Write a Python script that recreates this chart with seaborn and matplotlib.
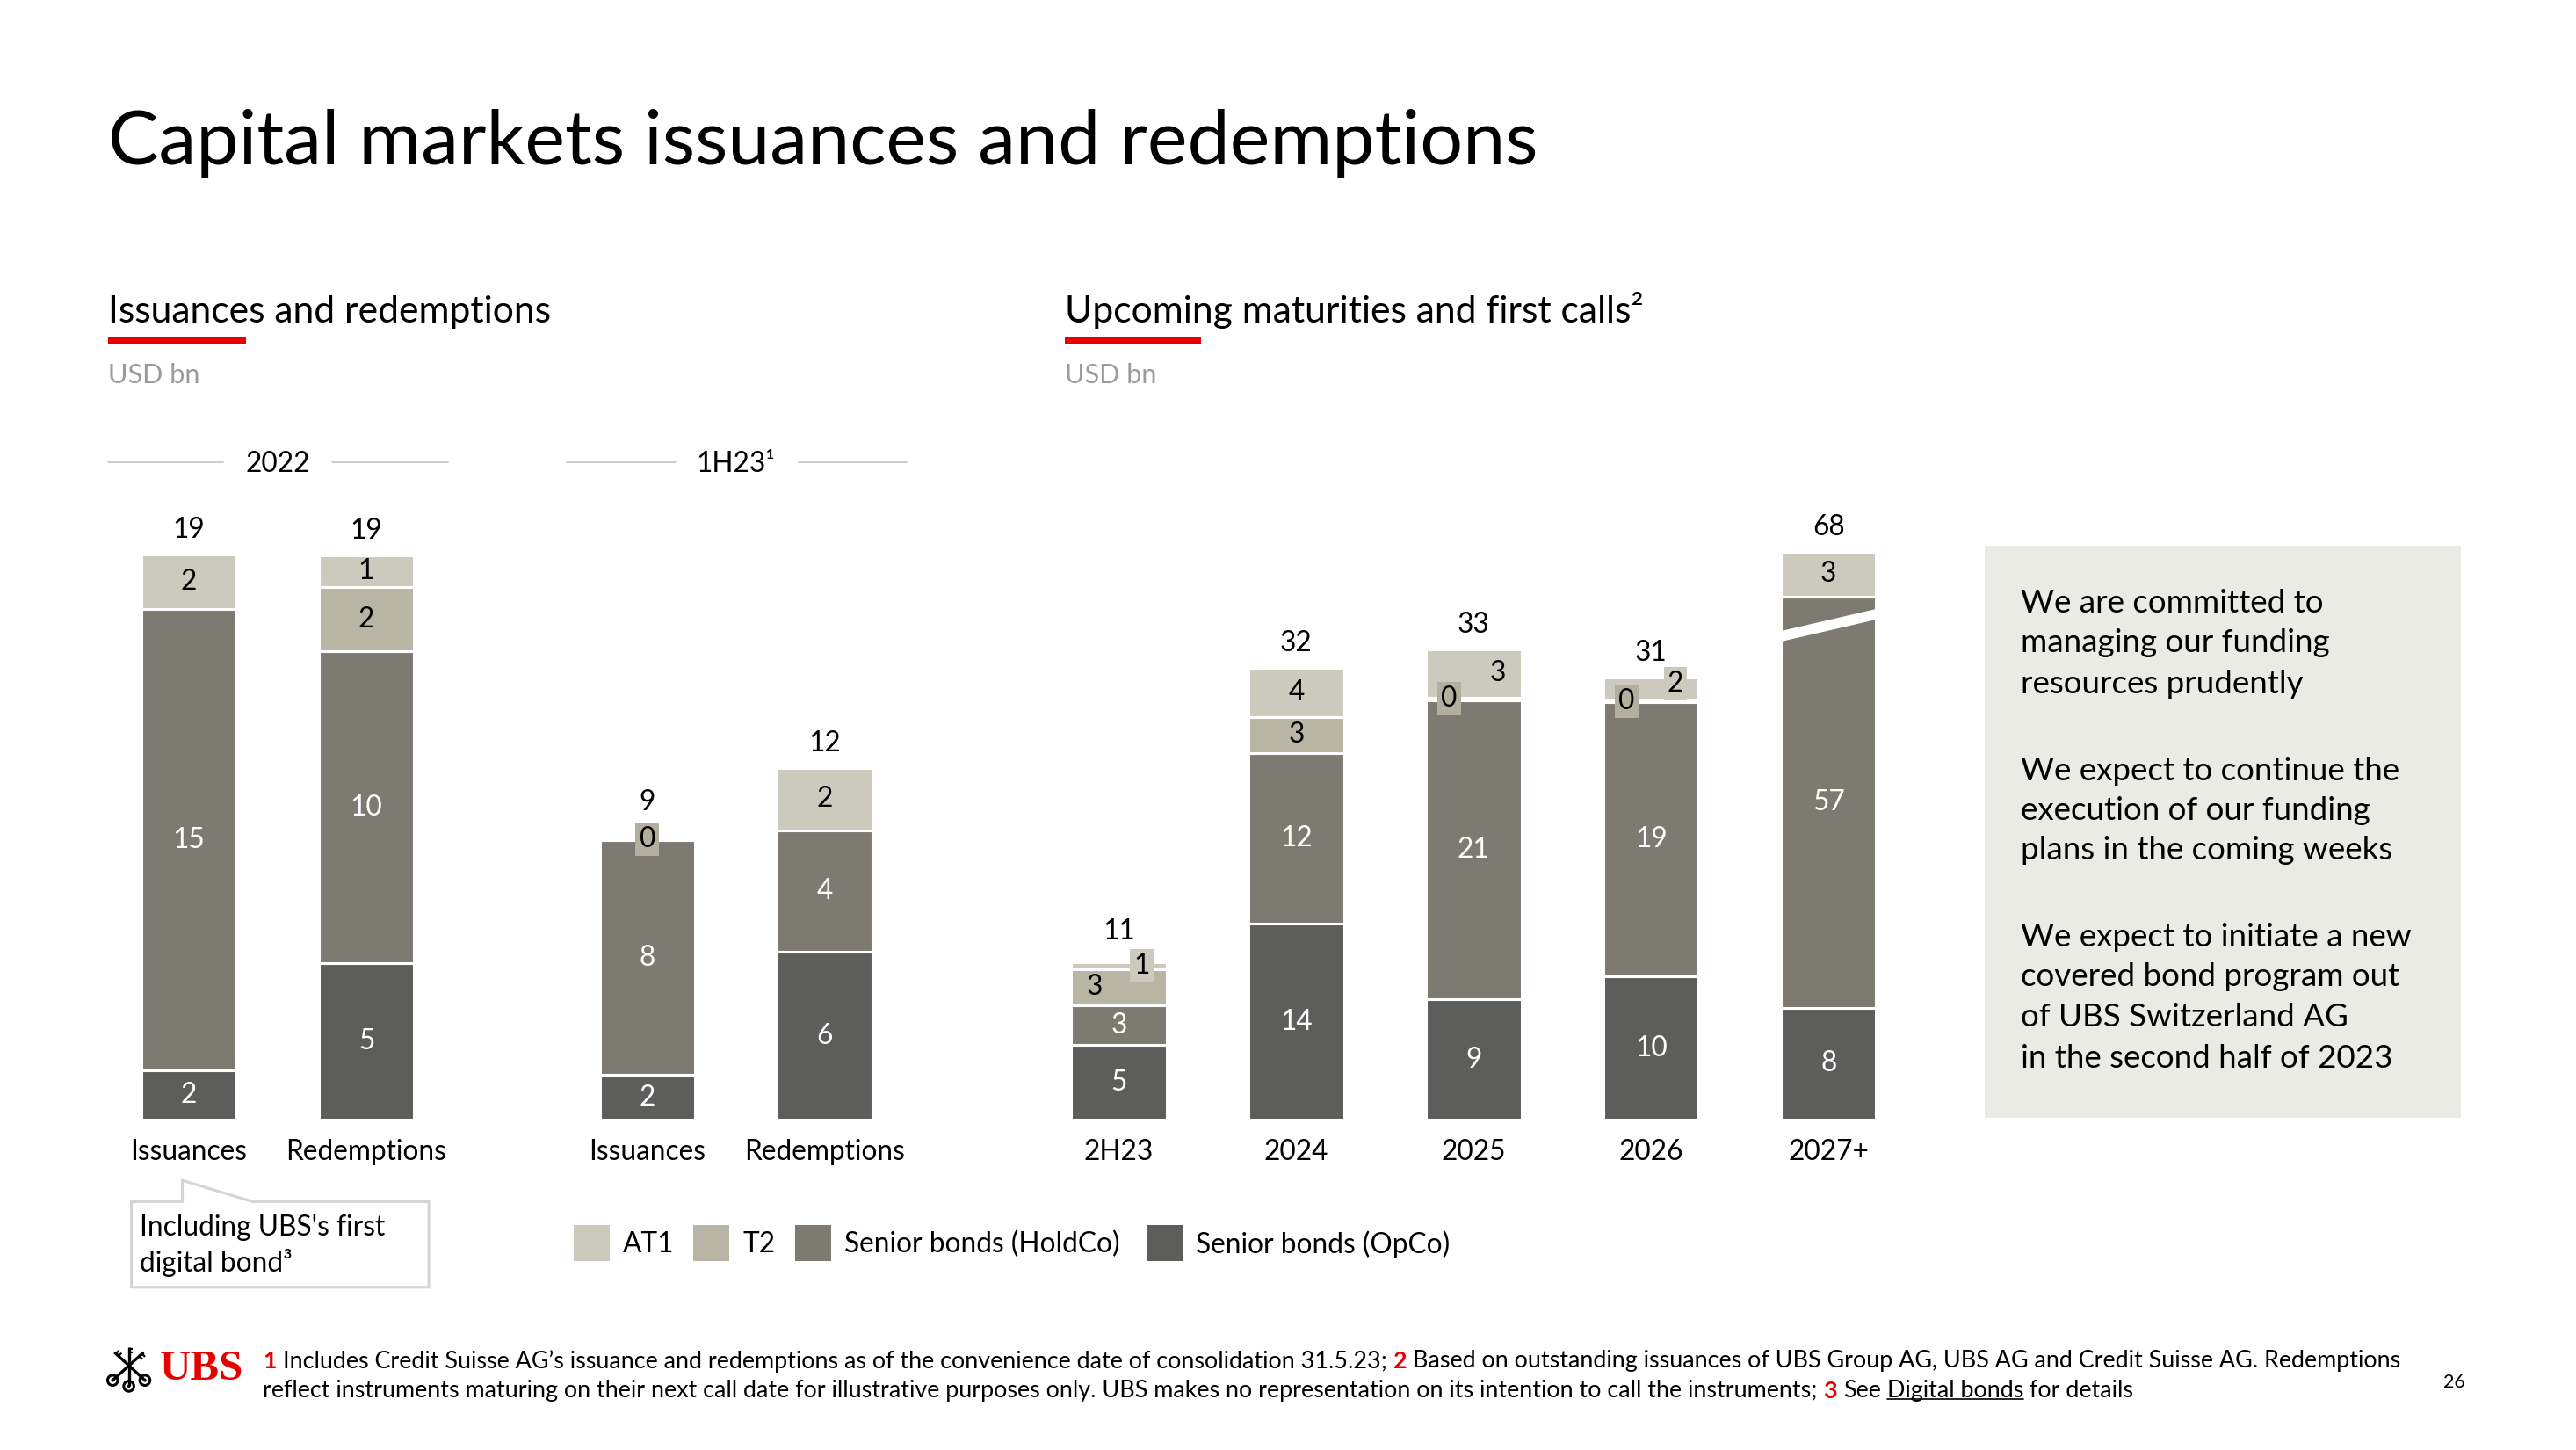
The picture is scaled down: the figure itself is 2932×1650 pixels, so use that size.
import numpy as np
import pandas as pd
import matplotlib
matplotlib.use("Agg")
import matplotlib.pyplot as plt
import seaborn as sns
from matplotlib.patches import Rectangle, Polygon, Circle
from matplotlib.lines import Line2D

# ---------------- data (USD bn) ----------------
series_names = ["AT1", "T2", "Senior bonds (HoldCo)", "Senior bonds (OpCo)"]

cats_2022 = ["Issuances", "Redemptions"]
opco_2022 = [1.64, 5.23]
holdco_2022 = [15.45, 10.45]
t2_2022 = [np.nan, 2.16]
at1_2022 = [1.85, 1.05]

cats_1h23 = ["Issuances", "Redemptions"]
opco_1h23 = [1.50, 5.62]
holdco_1h23 = [7.85, 4.07]
t2_1h23 = [0.10, np.nan]
at1_1h23 = [np.nan, 2.09]

cats_mat = ["2H23", "2024", "2025", "2026", "2027+"]
opco_mat = [5.26, 13.85, 8.50, 10.13, 7.92]
holdco_mat = [2.83, 12.10, 21.19, 19.40, 57.00]
t2_mat = [2.55, 2.56, 0.20, 0.20, np.nan]
at1_mat = [0.50, 3.50, 3.41, 1.60, 3.20]

group_labels = ["2022", "1H23¹"]

title = "Capital markets issuances and redemptions"
sub_left = "Issuances and redemptions"
sub_right = "Upcoming maturities and first calls²"
unit = "USD bn"
callout_lines = ["Including UBS's first", "digital bond³"]
box_paragraphs = [
    ["We are committed to", "managing our funding", "resources prudently"],
    ["We expect to continue the", "execution of our funding", "plans in the coming weeks"],
    ["We expect to initiate a new", "covered bond program out", "of UBS Switzerland AG",
     "in the second half of 2023"],
]
foot1 = [("1", "num"), ("Includes Credit Suisse AG’s issuance and redemptions as of the convenience date of consolidation 31.5.23;", "txt"),
         ("2", "num"), ("Based on outstanding issuances of UBS Group AG, UBS AG and Credit Suisse AG. Redemptions", "txt")]
foot2 = [("reflect instruments maturing on their next call date for illustrative purposes only. UBS makes no representation on its intention to call the instruments;", "txt"),
         ("3", "num"), ("See", "txt"), ("Digital bonds", "ul"), ("for details", "txt")]
page_no = "26"

# ---------------- style ----------------
COLORS = {"AT1": "#CCCABD", "T2": "#B9B5A5",
          "Senior bonds (HoldCo)": "#7D7A72", "Senior bonds (OpCo)": "#5D5E5C"}
TXT_ON = {"AT1": "black", "T2": "black",
          "Senior bonds (HoldCo)": "white", "Senior bonds (OpCo)": "white"}
RED = "#E60000"

sns.set_theme(style="white")
plt.rcParams["font.family"] = ["Lato", "DejaVu Sans"]
plt.rcParams["font.weight"] = "normal"
plt.rcParams["text.color"] = "black"
plt.rcParams["xtick.color"] = "black"
plt.rcParams["xtick.labelcolor"] = "black"
plt.rcParams["axes.labelcolor"] = "black"

W, H = 1568.0, 882.0
SC = 2932.0 / W
fig = plt.figure(figsize=(29.32, 16.5), dpi=100, facecolor="white")
R = fig.canvas.get_renderer()

ax_bg = fig.add_axes([0, 0, 1, 1], zorder=-5)
ax_bg.axis("off")


def fx(x):
    return x / W


def fy(y):
    return 1 - y / H


def ftext(x, y, s, **kw):
    kw.setdefault("color", "black")
    return fig.text(fx(x), fy(y), s, **kw)


def frect(x0, y0, x1, y1, **kw):
    r = Rectangle((fx(x0), fy(y1)), (x1 - x0) / W, (y1 - y0) / H, transform=fig.transFigure, **kw)
    fig.add_artist(r)
    return r


def fline(x0, y0, x1, y1, **kw):
    l = Line2D([fx(x0), fx(x1)], [fy(y0), fy(y1)], transform=fig.transFigure, **kw)
    fig.add_artist(l)
    return l


def fitsize(s, target, base=20.0, **kw):
    t = fig.text(0, 0, s, fontsize=base, **kw)
    w = t.get_window_extent(renderer=R).width
    t.remove()
    return base * target * SC / w


FS_TITLE = fitsize(title, 872)
FS_SUB = fitsize(sub_left, 271)
FS_UNIT = fitsize(unit, 56)
FS_LBL = fitsize("Redemptions", 98)
FS_BOX = fitsize("We expect to initiate a new", 239)
FS_FOOT = fitsize(" ".join(s for s, _ in foot1), 1305)
FS_LOGO = fitsize("UBS", 51, family="Liberation Serif", weight="bold")

# ---------------- headings ----------------
ftext(66, 100, title, fontsize=FS_TITLE, ha="left", va="baseline")
ftext(66, 196, sub_left, fontsize=FS_SUB, ha="left", va="baseline")
ftext(648, 196, sub_right, fontsize=FS_SUB, ha="left", va="baseline")
frect(66, 205, 150, 209.5, color=RED, lw=0)
frect(648, 205, 731, 209.5, color=RED, lw=0)
ftext(66, 233, unit, fontsize=FS_UNIT, ha="left", va="baseline", color="#9B9B9B")
ftext(648, 233, unit, fontsize=FS_UNIT, ha="left", va="baseline", color="#9B9B9B")

# group headers
ftext(169, 282, group_labels[0], fontsize=FS_LBL, ha="center", va="center")
fline(66, 281, 136, 281, color="#C8C8C8", lw=1.3)
fline(202, 281, 273, 281, color="#C8C8C8", lw=1.3)
ftext(448, 282, group_labels[1], fontsize=FS_LBL, ha="center", va="center")
fline(345, 281, 411, 281, color="#C8C8C8", lw=1.3)
fline(486, 281, 552, 281, color="#C8C8C8", lw=1.3)

# ---------------- axes ----------------
BASE = 681.0
LPX, RPX = 18.16, 8.59
BW = 58.0 / 108.0


def make_ax(x0, x1, height):
    ax = fig.add_axes([fx(x0), fy(BASE), (x1 - x0) / W, height / H])
    ax.set_facecolor("none")
    return ax


ax_a = make_ax(61, 277, 21 * LPX)
ax_b = make_ax(340, 556, 21 * LPX)
ax_c = make_ax(627, 1167, 44 * RPX)

# broken axis for the 2027+ bar
BRK_LO, BRK_HI, BRK_SQ = 36.4, 64.5, 0.2


def fwd(y):
    y = np.asarray(y, float)
    k = BRK_SQ / (BRK_HI - BRK_LO)
    return np.where(y <= BRK_LO, y,
                    np.where(y <= BRK_HI, BRK_LO + (y - BRK_LO) * k, BRK_LO + BRK_SQ + (y - BRK_HI)))


def inv(v):
    v = np.asarray(v, float)
    k = BRK_SQ / (BRK_HI - BRK_LO)
    return np.where(v <= BRK_LO, v,
                    np.where(v <= BRK_LO + BRK_SQ, BRK_LO + (v - BRK_LO) / k, BRK_HI + (v - BRK_LO - BRK_SQ)))


def ident(y):
    return np.asarray(y, float)


def lab(v):
    return str(int(np.floor(v + 0.5)))


TWEAKS = {
    ("b", "Issuances", "T2"): dict(box="#B3AF9F"),
    ("c", "2H23", "AT1"): dict(dx=19, box=COLORS["AT1"]),
    ("c", "2H23", "T2"): dict(dx=-20),
    ("c", "2025", "T2"): dict(dx=-20, box="#B3AF9F"),
    ("c", "2025", "AT1"): dict(dx=20),
    ("c", "2026", "T2"): dict(dx=-20, box="#B3AF9F"),
    ("c", "2026", "AT1"): dict(dx=20, dy=4, box=COLORS["AT1"]),
}
TOTAL_DY = {("b", "Issuances"): 29, ("c", "2H23"): 25}


def draw_panel(ax, key, cats, layers, ytop, f, finv, use_scale=False):
    n = len(cats)
    bottoms = np.zeros(n)
    pending = []
    for name, vals in layers:
        v = np.asarray(vals, float)
        m = ~np.isnan(v)
        sns.barplot(x=list(np.array(cats)[m]), y=v[m], order=cats, bottom=bottoms[m],
                    color=COLORS[name], saturation=1, width=BW, errorbar=None,
                    edgecolor="white", linewidth=2.2, ax=ax)
        for i in np.where(m)[0]:
            pending.append((i, bottoms[i], bottoms[i] + v[i], name, v[i]))
        bottoms[m] += v[m]
    if use_scale:
        ax.set_yscale("function", functions=(f, finv))
    ax.set_xlim(-0.5, n - 0.5)
    ax.set_ylim(0, float(finv(ytop)))
    for i, b, t, name, val in pending:
        mid = float(finv((f(b) + f(t)) / 2))
        tw = TWEAKS.get((key, cats[i], name), {})
        kw = {}
        if "box" in tw:
            kw["bbox"] = dict(boxstyle="square,pad=0.13", fc=tw["box"], ec="none")
        ax.annotate(lab(val), xy=(i, mid), xytext=(tw.get("dx", 0), tw.get("dy", 0)),
                    textcoords="offset points", ha="center", va="center",
                    fontsize=FS_LBL, color=TXT_ON[name], zorder=5, **kw)
    for i in range(n):
        ax.annotate(lab(bottoms[i]), xy=(i, bottoms[i]), xytext=(0, TOTAL_DY.get((key, cats[i]), 20)),
                    textcoords="offset points", ha="center", va="center", fontsize=FS_LBL,
                    color="black", annotation_clip=False)
    ax.set_yticks([])
    ax.set_xlabel("")
    ax.set_ylabel("")
    ax.grid(False)
    ax.tick_params(axis="x", length=0, pad=27.5 - 0.5 * FS_LBL, labelsize=FS_LBL,
                   labelcolor="black", colors="black")
    sns.despine(ax=ax, left=True, bottom=True)
    return bottoms


def layers_of(opco, holdco, t2, at1):
    return [("Senior bonds (OpCo)", opco), ("Senior bonds (HoldCo)", holdco), ("T2", t2), ("AT1", at1)]


draw_panel(ax_a, "a", cats_2022, layers_of(opco_2022, holdco_2022, t2_2022, at1_2022), 21, ident, ident)
draw_panel(ax_b, "b", cats_1h23, layers_of(opco_1h23, holdco_1h23, t2_1h23, at1_1h23), 21, ident, ident)
draw_panel(ax_c, "c", cats_mat, layers_of(opco_mat, holdco_mat, t2_mat, at1_mat), 44, fwd, inv, use_scale=True)

# white slash across the broken 2027+ bar
xi = cats_mat.index("2027+")
xl, xr = xi - BW / 2 - 0.05, xi + BW / 2 + 0.05
lo_l, rise, thick = 33.7, 1.85, 0.75
slash = Polygon([(xl, lo_l), (xr, lo_l + rise), (xr, lo_l + rise + thick), (xl, lo_l + thick)],
                closed=True, fc="white", ec="none", zorder=4)
ax_c.add_patch(slash)

# ---------------- legend ----------------
leg_x = [349, 422, 484, 698]
for x, name in zip(leg_x, series_names):
    frect(x, 745, x + 22, 767, color=COLORS[name], lw=0)
    ftext(x + 30, 757, name, fontsize=FS_LBL, ha="left", va="center")

# ---------------- callout ----------------
pts = [(80, 731), (111, 731), (111, 718), (154, 731), (261, 731), (261, 783), (80, 783)]
call = Polygon([(fx(a), fy(b)) for a, b in pts], closed=True, transform=fig.transFigure,
               fc="white", ec="#D4D4D4", lw=2.2)
fig.add_artist(call)
ftext(85, 747, callout_lines[0], fontsize=FS_LBL, ha="left", va="center")
ftext(85, 768, callout_lines[1], fontsize=FS_LBL, ha="left", va="center")

# ---------------- text box ----------------
frect(1208, 332, 1498, 680, color="#EBEBE6", lw=0)
para_y = [[367, 391, 416], [469, 493, 517], [570, 594, 619, 644]]
for lines, ys in zip(box_paragraphs, para_y):
    for s, y in zip(lines, ys):
        ftext(1230, y, s, fontsize=FS_BOX, ha="left", va="center")

# ---------------- footer ----------------
ul_artists = []


def chain(x, y, pieces):
    prev = None
    for k, (s, style) in enumerate(pieces):
        kw = dict(fontsize=FS_FOOT, color="black")
        if style == "num":
            kw.update(color=RED, weight="bold")
        if prev is None:
            t = ftext(x, y, s, ha="left", va="center", **kw)
        else:
            t = ax_bg.annotate(s, xy=(1, 0.5), xycoords=prev, xytext=(0.26 * FS_FOOT, 0),
                               textcoords="offset points", ha="left", va="center", **kw)
        if style == "ul":
            ul_artists.append(t)
        prev = t


chain(160, 828, foot1)
chain(160, 846, foot2)
ftext(1494, 841, page_no, fontsize=FS_FOOT * 0.8, ha="center", va="center")

# UBS logo
ftext(97, 833, "UBS", fontsize=FS_LOGO, family="Liberation Serif", weight="bold",
      color=RED, ha="left", va="center")
axl = fig.add_axes([fx(64), fy(850), 30 / W, 33 / H])
axl.set_xlim(64, 94)
axl.set_ylim(850, 817)
axl.axis("off")
shafts = [((68.6, 839.6), (87.4, 822.6)), ((88.2, 839.6), (69.7, 822.6)), ((78.4, 843.2), (78.4, 819.5))]
for (a, b) in shafts:
    axl.plot([a[0], b[0]], [a[1], b[1]], color="black", lw=2.4, solid_capstyle="butt")
    d = np.array(b) - np.array(a)
    d = d / np.hypot(*d)
    p = np.array([-d[1], d[0]])
    for s in (1.2, 3.4):
        base = np.array(b) - d * s
        tip = base + p * 2.6
        axl.plot([base[0], tip[0]], [base[1], tip[1]], color="black", lw=1.6, solid_capstyle="butt")
for (cx, cy) in [(68.6, 839.6), (78.4, 843.2), (88.2, 839.6)]:
    axl.add_patch(Circle((cx, cy), 3.1, fc="white", ec="black", lw=2.2))
    axl.add_patch(Circle((cx, cy), 1.0, fc="black", ec="none"))

# underline for hyperlink text
fig.canvas.draw()
for t in ul_artists:
    bb = t.get_window_extent(renderer=fig.canvas.get_renderer())
    yy = bb.y0 + 0.13 * bb.height
    fig.add_artist(Line2D([bb.x0 / fig.bbox.width, bb.x1 / fig.bbox.width],
                          [yy / fig.bbox.height, yy / fig.bbox.height],
                          transform=fig.transFigure, color="black", lw=1.2))

fig.savefig("out.png", dpi=100, facecolor="white")
